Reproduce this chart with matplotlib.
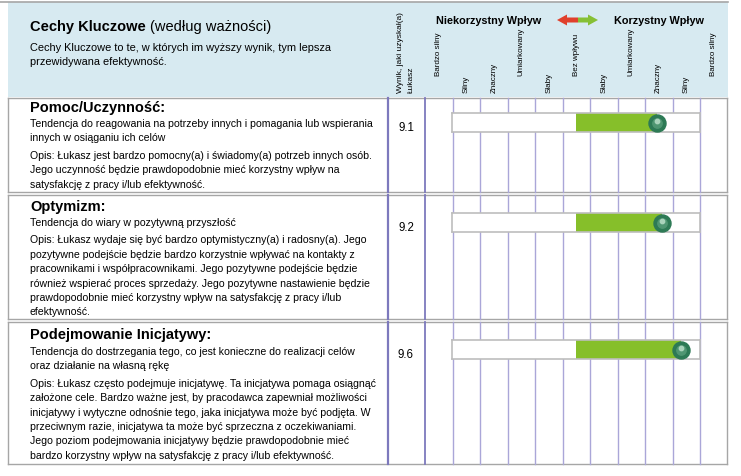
import matplotlib.pyplot as plt
from matplotlib.patches import Rectangle, Polygon

plt.rcParams['font.family'] = ['Liberation Sans', 'DejaVu Sans']

# --- data ---
traits = ["Pomoc/Uczynność:", "Optymizm:", "Podejmowanie Inicjatywy:"]
definitions = [
    ["Tendencja do reagowania na potrzeby innych i pomagania lub wspierania",
     "innych w osiąganiu ich celów"],
    ["Tendencja do wiary w pozytywną przyszłość"],
    ["Tendencja do dostrzegania tego, co jest konieczne do realizacji celów",
     "oraz działanie na własną rękę"],
]
descriptions = [
    ["Opis: Łukasz jest bardzo pomocny(a) i świadomy(a) potrzeb innych osób.",
     "Jego uczynność będzie prawdopodobnie mieć korzystny wpływ na",
     "satysfakcję z pracy i/lub efektywność."],
    ["Opis: Łukasz wydaje się być bardzo optymistyczny(a) i radosny(a). Jego",
     "pozytywne podejście będzie bardzo korzystnie wpływać na kontakty z",
     "pracownikami i współpracownikami. Jego pozytywne podejście będzie",
     "również wspierać proces sprzedaży. Jego pozytywne nastawienie będzie",
     "prawdopodobnie mieć korzystny wpływ na satysfakcję z pracy i/lub",
     "efektywność."],
    ["Opis: Łukasz często podejmuje inicjatywę. Ta inicjatywa pomaga osiągnąć",
     "założone cele. Bardzo ważne jest, by pracodawca zapewniał możliwości",
     "inicjatywy i wytyczne odnośnie tego, jaka inicjatywa może być podjęta. W",
     "przeciwnym razie, inicjatywa ta może być sprzeczna z oczekiwaniami.",
     "Jego poziom podejmowania inicjatywy będzie prawdopodobnie mieć",
     "bardzo korzystny wpływ na satysfakcję z pracy i/lub efektywność."],
]
scores = [9.1, 9.2, 9.6]
column_labels = ["Bardzo silny", "Silny", "Znaczny", "Umiarkowany", "Słaby", "Bez wpływu",
                 "Słaby", "Umiarkowany", "Znaczny", "Silny", "Bardzo silny"]
score_min, score_max, neutral = 4.8, 10.0, 7.4

# --- layout (pixels) ---
W, H = 741, 477
row_tops = [99, 196, 323]
row_bottoms = [193, 320, 465]
title_y = [108, 207, 335]
first_line_y = [124, 223, 352]
desc_gap = 17.5
line_h = 14.4
bar_boxes = [(114, 133), (214, 233), (341, 360)]
label_bottoms = [76, 93, 93, 76, 93, 76, 93, 76, 93, 93, 76]

fig = plt.figure(figsize=(W / 100, H / 100), dpi=100)
ax = fig.add_axes([0, 0, 1, 1])
ax.set_xlim(0, W)
ax.set_ylim(H, 0)
ax.axis('off')

gray = '#a6a6a6'
purple = '#aaa6d8'
dark_purple = '#7d79bd'
body = 7.6

# header
ax.add_patch(Rectangle((8, 3), 720, 95, facecolor='#d7eaf1', edgecolor='none'))
ax.plot([0, 728], [3, 3], color=gray, lw=1.2)
t = ax.text(30, 27, "Cechy Kluczowe", fontsize=10.5, fontweight='bold', va='center')
ax.annotate("(według ważności)", xy=(1, 0.5), xycoords=t, xytext=(3, 0),
            textcoords='offset points', fontsize=10.5, va='center')
ax.text(30, 48, "Cechy Kluczowe to te, w których im wyższy wynik, tym lepsza", fontsize=7.9, va='center')
ax.text(30, 62, "przewidywana efektywność.", fontsize=7.9, va='center')
ax.text(489, 21, "Niekorzystny Wpływ", fontsize=7.8, fontweight='bold', ha='center', va='center')
ax.text(659, 21, "Korzystny Wpływ", fontsize=7.8, fontweight='bold', ha='center', va='center')
ax.add_patch(Polygon([(557, 21), (567, 15.5), (567, 18.5), (578, 18.5), (578, 23.5), (567, 23.5), (567, 26.5)],
                     closed=True, facecolor='#e0402c', edgecolor='none'))
ax.add_patch(Polygon([(598, 21), (588, 15.5), (588, 18.5), (578, 18.5), (578, 23.5), (588, 23.5), (588, 26.5)],
                     closed=True, facecolor='#86c035', edgecolor='none'))

ax.text(401, 93, "Wynik, jaki uzyskał(a)", fontsize=6, rotation=90, ha='center', va='bottom')
ax.text(411, 93, "Łukasz", fontsize=6, rotation=90, ha='center', va='bottom')
col_w = 27.5
for k, lab in enumerate(column_labels):
    ax.text(425 + col_w * (k + 0.5), label_bottoms[k], lab, fontsize=5.8, rotation=90,
            ha='center', va='bottom')

# table grid
for top, bot in zip(row_tops, row_bottoms):
    ax.plot([8, 727], [top, top], color=gray, lw=1)
    ax.plot([8, 727], [bot, bot], color=gray, lw=1)
    ax.plot([8, 8], [top, bot], color=gray, lw=1)
    ax.plot([727, 727], [top, bot], color=gray, lw=1)
    ax.plot([388, 388], [top, bot], color=dark_purple, lw=1.6)
    for k in range(11):
        x = 425 + col_w * k
        ax.plot([x, x], [top, bot], color=purple if k else dark_purple, lw=1.0 if k else 1.3)

# row texts
for i in range(len(traits)):
    ax.text(30, title_y[i], traits[i], fontsize=10.5, fontweight='bold', va='center')
    y = first_line_y[i]
    for line in definitions[i]:
        ax.text(30, y, line, fontsize=body, va='center')
        y += line_h
    y += desc_gap - line_h
    for line in descriptions[i]:
        ax.text(30, y, line, fontsize=body, va='center')
        y += line_h
    b_top, b_bot = bar_boxes[i]
    ax.text(406, (b_top + b_bot) / 2 + 5, f"{scores[i]}", fontsize=8.3, ha='center', va='center')

    # score bar on its own axis
    bax = fig.add_axes([452 / W, 1 - b_bot / H, 248 / W, (b_bot - b_top) / H])
    bax.set_xlim(score_min, score_max)
    bax.set_ylim(0, 1)
    bax.set_xticks([])
    bax.set_yticks([])
    for sp in bax.spines.values():
        sp.set_color('#bdbdbd')
        sp.set_linewidth(1.2)
    bax.barh(0.5, scores[i] - neutral, left=neutral, height=1, color='#86bf2a', zorder=2)
    bax.scatter([scores[i]], [0.5], s=150, color='#2d7a55', zorder=3, clip_on=False)
    bax.scatter([scores[i]], [0.5], s=45, color='#4f9672', zorder=4, clip_on=False)
    bax.scatter([scores[i]], [0.56], s=10, color='#a9d3bb', zorder=5, clip_on=False)

fig.savefig("out.png", dpi=100)
